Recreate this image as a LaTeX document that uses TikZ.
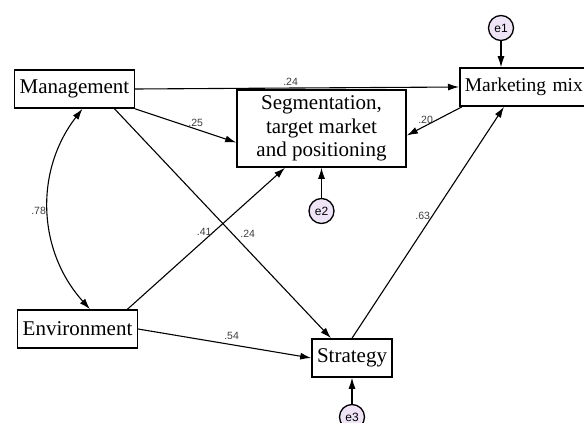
\documentclass[tikz,border=0pt]{standalone}
\usepackage{fontspec}
\setmainfont{Liberation Serif}
\newfontfamily\wtfont{Liberation Sans}
\usepackage{tikz}
\usetikzlibrary{arrows.meta,positioning}
\definecolor{errfill}{RGB}{238,228,246}
\definecolor{wtgray}{RGB}{60,60,60}

\begin{document}
\begin{tikzpicture}[x=1pt, y=-1pt, >={Latex[length=11pt,width=7pt]}, line width=1.1pt,
   var/.style={draw, line width=1.6pt, fill=white, inner xsep=5pt, minimum height=38pt, font=\fontsize{21}{23.5}\selectfont},
   err/.style={draw, circle, line width=1.3pt, fill=errfill, inner sep=0pt, minimum size=25pt, font=\wtfont\fontsize{12}{12}\selectfont},
   wt/.style={font=\wtfont\fontsize{10.5}{10.5}\selectfont, text=wtgray, inner sep=2pt}]
   \useasboundingbox (0,0) rectangle (584,423);
   \clip (0,0) rectangle (584,423);
   \node[var] (mgmt)  at (74.5,89)  {Management};
   \node[var] (env)   at (77.5,329) {Environment};
   \node[var, align=center, minimum width=169pt, minimum height=77pt] (seg) at (321.5,128.5)
        {Segmentation,\\ target market\\ and positioning};
   \node[var, anchor=west, inner xsep=5pt, text width=136pt, align=left, font=\fontsize{19.5}{22}\selectfont] (mix) at (459,87) {Marketing mix};
   \node[var] (strat) at (352,358)  {Strategy};
   \node[err] (e1) at (501,28)  {e1};
   \node[err] (e2) at (321.5,211) {e2};
   \node[err] (e3) at (352,417) {e3};
   \path (mgmt.east) edge [->] node[wt, above, pos=.48] {.24} (mix.west)
         (mgmt.south east) edge [->] node[wt, above, pos=.6] {.25} ([yshift=-14pt]seg.west)
         ([xshift=40pt]mgmt.south) edge [->] node[wt, above right, pos=.57] {.24} ([xshift=-21pt]strat.north)
         ([xshift=3pt]mix.south west) edge [->] node[wt, above, pos=.66] {.20} ([yshift=-7pt]seg.east)
         ([xshift=50pt]env.north) edge [->] node[wt, left, pos=.55] {.41} ([xshift=-36.5pt]seg.south)
         (env.east) edge [->] node[wt, above, pos=.54, yshift=3pt] {.54} (strat.west)
         (strat.north) edge [->] node[wt, left, pos=.53] {.63} ([xshift=45pt]mix.south west)
         ([xshift=8pt]mgmt.south) edge [<->, bend right=40] node[wt, left] {.78} ([xshift=12.5pt]env.north)
         (e1) edge [->] (e1.south |- mix.north)
         (e2) edge [->] (seg)
         (e3) edge [->] (strat);
\end{tikzpicture}
\end{document}
